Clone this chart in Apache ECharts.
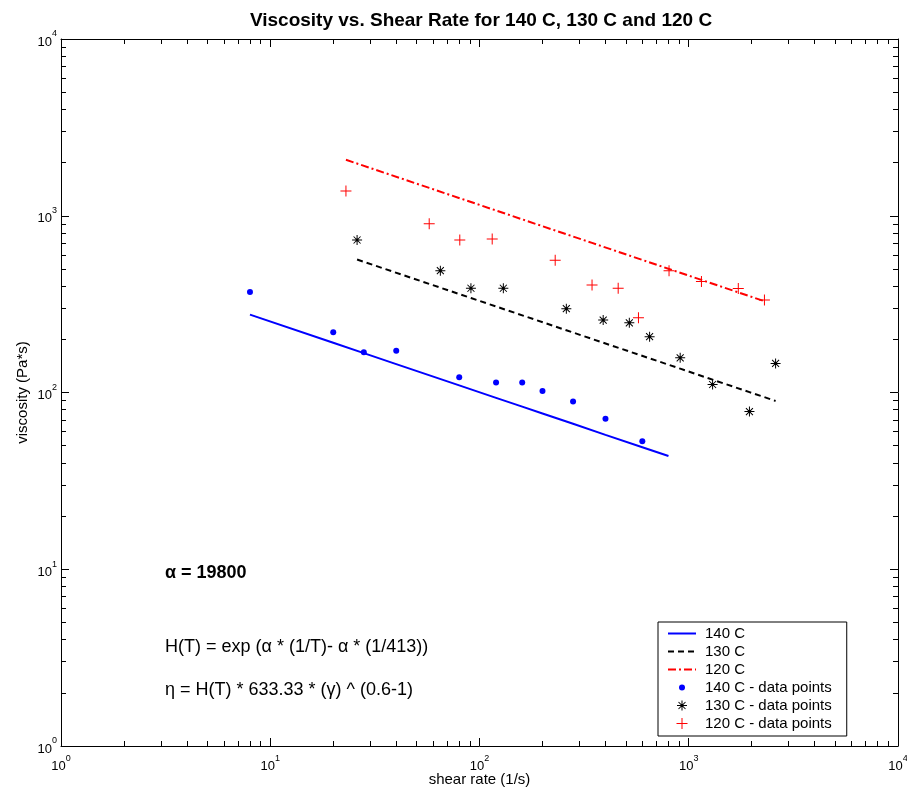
<!DOCTYPE html>
<html>
<head>
<meta charset="utf-8">
<script src="https://cdn.jsdelivr.net/npm/echarts@6/dist/echarts.min.js"></script>
<style>
  html, body { margin: 0; padding: 0; background: #ffffff; }
  #chart { width: 907px; height: 793px; }
</style>
</head>
<body>
<div id="chart"></div>
<script>
// Measured points (shear rate in 1/s, viscosity in Pa*s)
const rate140 = [8, 20, 28, 40, 80, 120, 160, 200, 280, 400, 600];
const visc140 = [370, 219, 169, 172, 122, 114, 114, 102, 89, 71, 53];
const rate130 = [26, 65, 91, 130, 260, 390, 520, 650, 910, 1300, 1950, 2600];
const visc130 = [729, 489, 389, 389, 298, 257, 248, 207, 157, 111, 78, 146];
const rate120 = [23, 57.5, 80.5, 115, 230, 345, 460, 575, 805, 1150, 1725, 2300];
const visc120 = [1380, 901, 729, 739, 560, 406, 389, 265, 489, 424, 387, 334];

// Model curves eta = H(T) * 633.33 * gamma^(0.6-1)
const fitRate140 = [8, 20, 28, 40, 80, 120, 160, 200, 280, 400, 600, 800];
const fit140 = [275.7, 191.1, 167.0, 144.8, 109.7, 93.3, 83.2, 76.1, 66.5, 57.6, 49.0, 43.7];
const fitRate130 = [26, 65, 91, 130, 260, 390, 520, 650, 910, 1300, 1950, 2600];
const fit130 = [565.5, 391.8, 342.5, 297.0, 225.0, 191.3, 170.6, 156.1, 136.4, 118.2, 100.5, 89.6];
const fitRate120 = [23, 57.5, 80.5, 115, 230, 345, 460, 575, 805, 1150, 1725, 2300];
const fit120 = [2073, 1437, 1256, 1089, 825, 702, 625.5, 572, 500, 433.5, 368.6, 328.4];

// Axis range (decades)
const rateRange = [1, 10000];
const viscRange = [1, 10000];

const seriesNames = ['140 C', '130 C', '120 C',
  '140 C - data points', '130 C - data points', '120 C - data points'];

function pairs(xs, ys) { return xs.map((x, i) => [x, ys[i]]); }

// Marker shapes
const plusShape = 'M-0.5,-5.5L0.5,-5.5L0.5,5.5L-0.5,5.5Z' +
  'M-5.5,-0.5L5.5,-0.5L5.5,0.5L-5.5,0.5Z';
const starShape = 'M-0.5,-5L0.5,-5L0.5,5L-0.5,5Z' +
  'M-5,-0.5L5,-0.5L5,0.5L-5,0.5Z' +
  'M-3.15,-3.85L3.85,3.15L3.15,3.85L-3.85,-3.15Z' +
  'M-3.85,3.15L3.15,-3.85L3.85,-3.15L-3.15,3.85Z' +
  'M-1.5,-1.5L1.5,-1.5L1.5,1.5L-1.5,1.5Z';
const dotShape = 'M3,0A3,3 0 1 1 -3,0A3,3 0 1 1 3,0Z';
// legend icons keep the marker at its plotted size inside a 28x14 box
const boxFrame = 'M-14,-7M14,7';

const FONT = '"Liberation Sans", Arial, Helvetica, sans-serif';

function powLabel(value) {
  const e = Math.round(Math.log10(value));
  return '{b|10}{s|' + e + '}';
}
const labelRich = {
  b: { fontSize: 13, fontFamily: FONT, color: '#000', lineHeight: 19, verticalAlign: 'bottom' },
  s: { fontSize: 9, fontFamily: FONT, color: '#000', lineHeight: 19, verticalAlign: 'top' }
};

function makeAxis(pos, showLabel, extra) {
  const horizontal = pos === 'bottom' || pos === 'top';
  return Object.assign({
    type: 'log',
    logBase: 10,
    position: pos,
    min: horizontal ? rateRange[0] : viscRange[0],
    max: horizontal ? rateRange[1] : viscRange[1],
    axisLine: { show: true, lineStyle: { color: '#000', width: 1 } },
    axisTick: { show: true, inside: true, length: 8, lineStyle: { color: '#000', width: 1 } },
    minorTick: { show: true, splitNumber: 9, length: 5, lineStyle: { color: '#000', width: 1 } },
    splitLine: { show: false },
    minorSplitLine: { show: false },
    axisLabel: { show: showLabel, formatter: powLabel, rich: labelRich }
  }, extra || {});
}

const chart = echarts.init(document.getElementById('chart'), null, { renderer: 'canvas' });

chart.setOption({
  backgroundColor: '#ffffff',
  animation: false,
  title: {
    text: 'Viscosity vs. Shear Rate for 140 C, 130 C and 120 C',
    left: 476,
    top: 6,
    textAlign: 'center',
    textStyle: { fontFamily: FONT, fontWeight: 'bold', fontSize: 19, color: '#000' }
  },
  grid: { left: 61, right: 9, top: 39, bottom: 47, containLabel: false, outerBoundsMode: 'none' },
  xAxis: [
    makeAxis('bottom', true, {
      name: 'shear rate (1/s)',
      nameLocation: 'middle',
      nameGap: 26,
      nameMoveOverlap: false,
      nameTextStyle: { fontFamily: FONT, fontSize: 15, color: '#000' },
      axisLabel: { show: true, margin: 8, formatter: powLabel, rich: labelRich }
    }),
    makeAxis('top', false)
  ],
  yAxis: [
    makeAxis('left', true, {
      name: 'viscosity (Pa*s)',
      nameLocation: 'middle',
      nameGap: 31,
      nameMoveOverlap: false,
      nameTextStyle: { fontFamily: FONT, fontSize: 15, color: '#000' },
      axisLabel: { show: true, margin: 4, formatter: powLabel, rich: labelRich }
    }),
    makeAxis('right', false)
  ],
  legend: {
    orient: 'vertical',
    left: 658,
    top: 622,
    itemWidth: 28,
    itemHeight: 14,
    itemGap: 3,
    padding: [4, 15, 5, 9],
    backgroundColor: '#ffffff',
    borderColor: '#000',
    borderWidth: 1,
    borderRadius: 0,
    textStyle: { fontFamily: FONT, fontSize: 15, lineHeight: 14, color: '#000', padding: [0, 0, 0, 4] },
    data: [
      { name: seriesNames[0], itemStyle: { opacity: 0 } },
      { name: seriesNames[1], itemStyle: { opacity: 0 } },
      { name: seriesNames[2], itemStyle: { opacity: 0 } },
      { name: seriesNames[3], icon: 'path://' + boxFrame + dotShape },
      { name: seriesNames[4], icon: 'path://' + boxFrame + starShape },
      { name: seriesNames[5], icon: 'path://' + boxFrame + plusShape }
    ]
  },
  graphic: [
    { type: 'text', x: 165, y: 573,
      style: { text: 'α = 19800', fontFamily: FONT, fontWeight: 'bold', fontSize: 18,
               fill: '#000', verticalAlign: 'middle' } },
    { type: 'text', x: 165, y: 647,
      style: { text: 'H(T) = exp (α * (1/T)- α * (1/413))', fontFamily: FONT, fontSize: 18,
               fill: '#000', verticalAlign: 'middle' } },
    { type: 'text', x: 165, y: 690,
      style: { text: 'η = H(T) * 633.33 * (γ) ^ (0.6-1)', fontFamily: FONT, fontSize: 18,
               fill: '#000', verticalAlign: 'middle' } }
  ],
  series: [
    {
      name: seriesNames[0], type: 'line', symbol: 'none', z: 2,
      data: pairs(fitRate140, fit140),
      lineStyle: { color: '#0000ff', width: 2, type: 'solid' },
      itemStyle: { color: '#0000ff' }
    },
    {
      name: seriesNames[1], type: 'line', symbol: 'none', z: 2,
      data: pairs(fitRate130, fit130),
      lineStyle: { color: '#000000', width: 2, type: [6, 4] },
      itemStyle: { color: '#000000' }
    },
    {
      name: seriesNames[2], type: 'line', symbol: 'none', z: 2,
      data: pairs(fitRate120, fit120),
      lineStyle: { color: '#ff0000', width: 2, type: [8, 3, 2, 3] },
      itemStyle: { color: '#ff0000' }
    },
    {
      name: seriesNames[3], type: 'scatter', z: 3,
      symbol: 'path://' + dotShape, symbolSize: 6,
      data: pairs(rate140, visc140),
      itemStyle: { color: '#0000ff', opacity: 1 }
    },
    {
      name: seriesNames[4], type: 'scatter', z: 3,
      symbol: 'path://' + starShape, symbolSize: 10,
      data: pairs(rate130, visc130),
      itemStyle: { color: '#000000', opacity: 1 }
    },
    {
      name: seriesNames[5], type: 'scatter', z: 3,
      symbol: 'path://' + plusShape, symbolSize: 11,
      data: pairs(rate120, visc120),
      itemStyle: { color: '#ff0000', opacity: 1 }
    }
  ]
});
</script>
</body>
</html>
